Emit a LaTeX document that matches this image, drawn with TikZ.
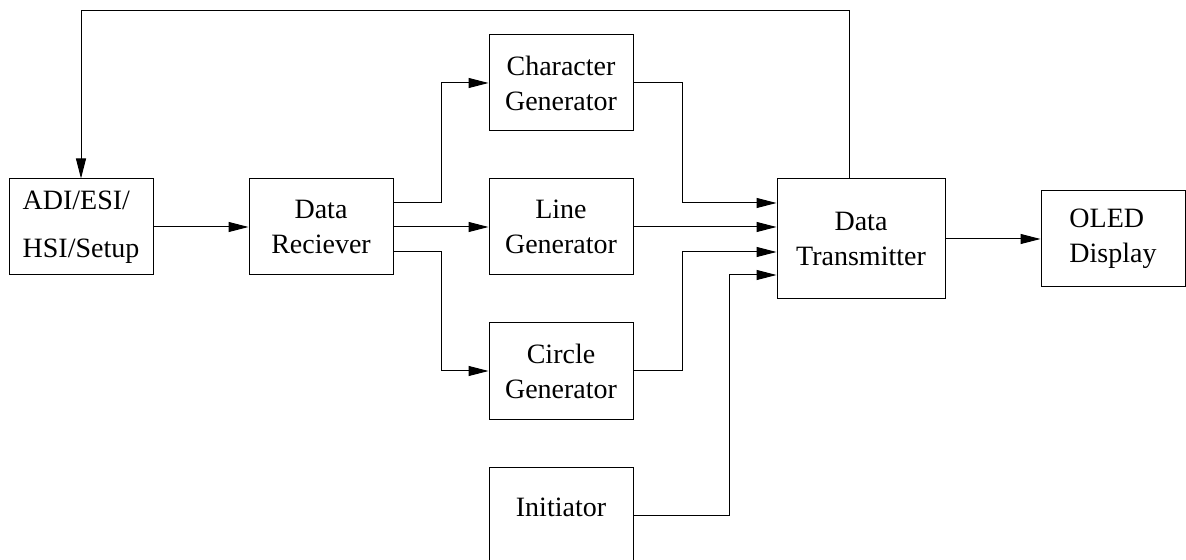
\documentclass[tikz,border=0pt]{standalone}
\usepackage{fontspec}
\setmainfont{Liberation Serif}
\usepackage{tikz}
\usetikzlibrary{positioning,arrows.meta}

\begin{document}
\begin{tikzpicture}[x=0.5pt, y=-0.5pt,
  blocknode/.style={draw, line width=0.5pt, minimum width=72pt, minimum height=48pt, inner sep=2pt, align=center, font=\fontsize{14}{17.5}\selectfont},
  flow/.style={line width=0.5pt, -{Triangle[length=10pt,width=5pt]}}]
\useasboundingbox (0,0) rectangle (1186,560);

\node[blocknode, align=left] (adi) at (81,227) {ADI/ESI/\\[6.5pt]HSI/Setup};
\node[blocknode] (rec) at (321,227) {Data\\Reciever};
\node[blocknode] (chr) at (561,83) {Character\\Generator};
\node[blocknode] (lin) at (561,227) {Line\\Generator};
\node[blocknode] (cir) at (561,371) {Circle\\Generator};
\node[blocknode] (ini) at (561,515) {\raisebox{8pt}{Initiator}};
\node[blocknode, minimum width=84pt, minimum height=60pt] (dtx) at (861,239) {Data\\Transmitter};
\node[blocknode, align=left] (oled) at (1113,239) {OLED\\Display};

\coordinate (loop) at (849,11);

\draw[flow] (adi.east) -- (rec.west);
\draw[flow] ([yshift=12pt]rec.east) -- ++(24pt,0) |- (chr.west);
\draw[flow] (rec.east) -- (lin.west);
\draw[flow] ([yshift=-12.5pt]rec.east) -- ++(24pt,0) |- (cir.west);
\draw[flow] (chr.east) -- ++(24.5pt,0) |- ([yshift=18pt]dtx.west);
\draw[flow] (lin.east) -- (lin.east -| dtx.west);
\draw[flow] (cir.east) -- ++(24.5pt,0) |- ([yshift=-6.5pt]dtx.west);
\draw[flow] (ini.east) -- ++(48pt,0) |- ([yshift=-18pt]dtx.west);
\draw[flow] (dtx.east) -- (oled.west);
\draw[flow] (dtx.north -| loop) -- (loop) -| (adi.north);

\end{tikzpicture}
\end{document}
